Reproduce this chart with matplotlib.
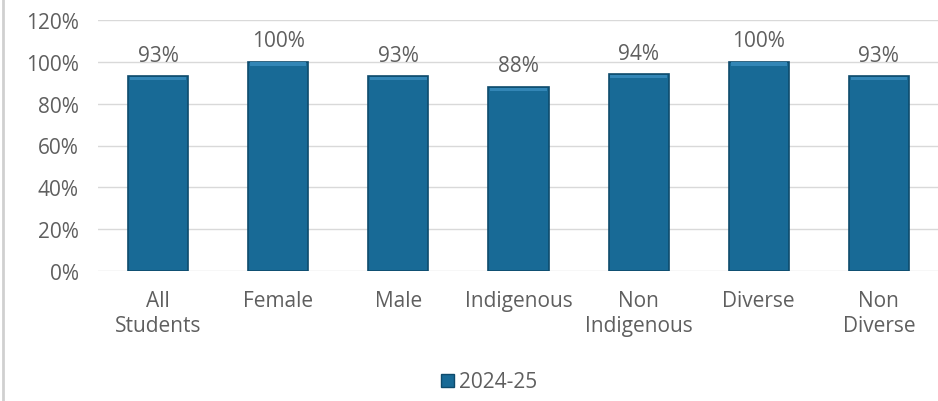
import matplotlib
matplotlib.use("Agg")
import matplotlib.pyplot as plt
from matplotlib.lines import Line2D
from matplotlib.patches import Patch

categories = ["All\nStudents", "Female", "Male", "Indigenous", "Non\nIndigenous", "Diverse", "Non\nDiverse"]
values = [93, 100, 93, 88, 94, 100, 93]
series_name = "2024-25"
y_ticks = [0, 20, 40, 60, 80, 100, 120]

plt.rcParams["font.family"] = ["Open Sans", "DejaVu Sans"]
text_col = "#5f5f5f"
bar_col = "#186a96"
edge_col = "#0e4b6c"
fs = 15

fig = plt.figure(figsize=(9.38, 4.02), dpi=100)
ax = fig.add_axes([98 / 938, 1 - 272 / 402, 841 / 938, 251 / 402])

x = range(len(categories))
ax.bar(x, values, width=0.5, color=bar_col, edgecolor=edge_col, linewidth=1.2, zorder=3)
# subtle lighter bevel along the top of each bar
ax.bar(x, [1.6] * len(values), bottom=[v - 1.9 for v in values], width=0.47,
       color="#3386b6", linewidth=0, zorder=4)

for xi, v in zip(x, values):
    ax.text(xi, v + 5, f"{v}%", ha="center", va="bottom", fontsize=fs, color=text_col)

ax.set_xlim(-0.5, len(categories) - 0.5)
ax.set_ylim(0, 120)
ax.set_yticks(y_ticks)
ax.set_yticklabels([f"{t}%" for t in y_ticks])
ax.set_xticks(list(x))
ax.set_xticklabels(categories, linespacing=1.2)
ax.tick_params(axis="both", length=0, labelsize=fs, labelcolor=text_col)
ax.tick_params(axis="y", pad=14)
ax.tick_params(axis="x", pad=14)
ax.grid(axis="y", color="#d9d9d9", linewidth=1, zorder=0)
for s in ax.spines.values():
    s.set_visible(False)

handle = Patch(facecolor=bar_col, edgecolor=edge_col)
fig.legend([handle], [series_name], loc="center", bbox_to_anchor=(489 / 938, 1 - 383 / 402),
           frameon=False, fontsize=fs, handlelength=0.6, handleheight=0.6, handletextpad=0.25,
           labelcolor=text_col)

fig.add_artist(Line2D([3 / 938, 3 / 938], [0, 1], color="#d0d0d0", linewidth=2))

fig.savefig("out.png", dpi=100)
